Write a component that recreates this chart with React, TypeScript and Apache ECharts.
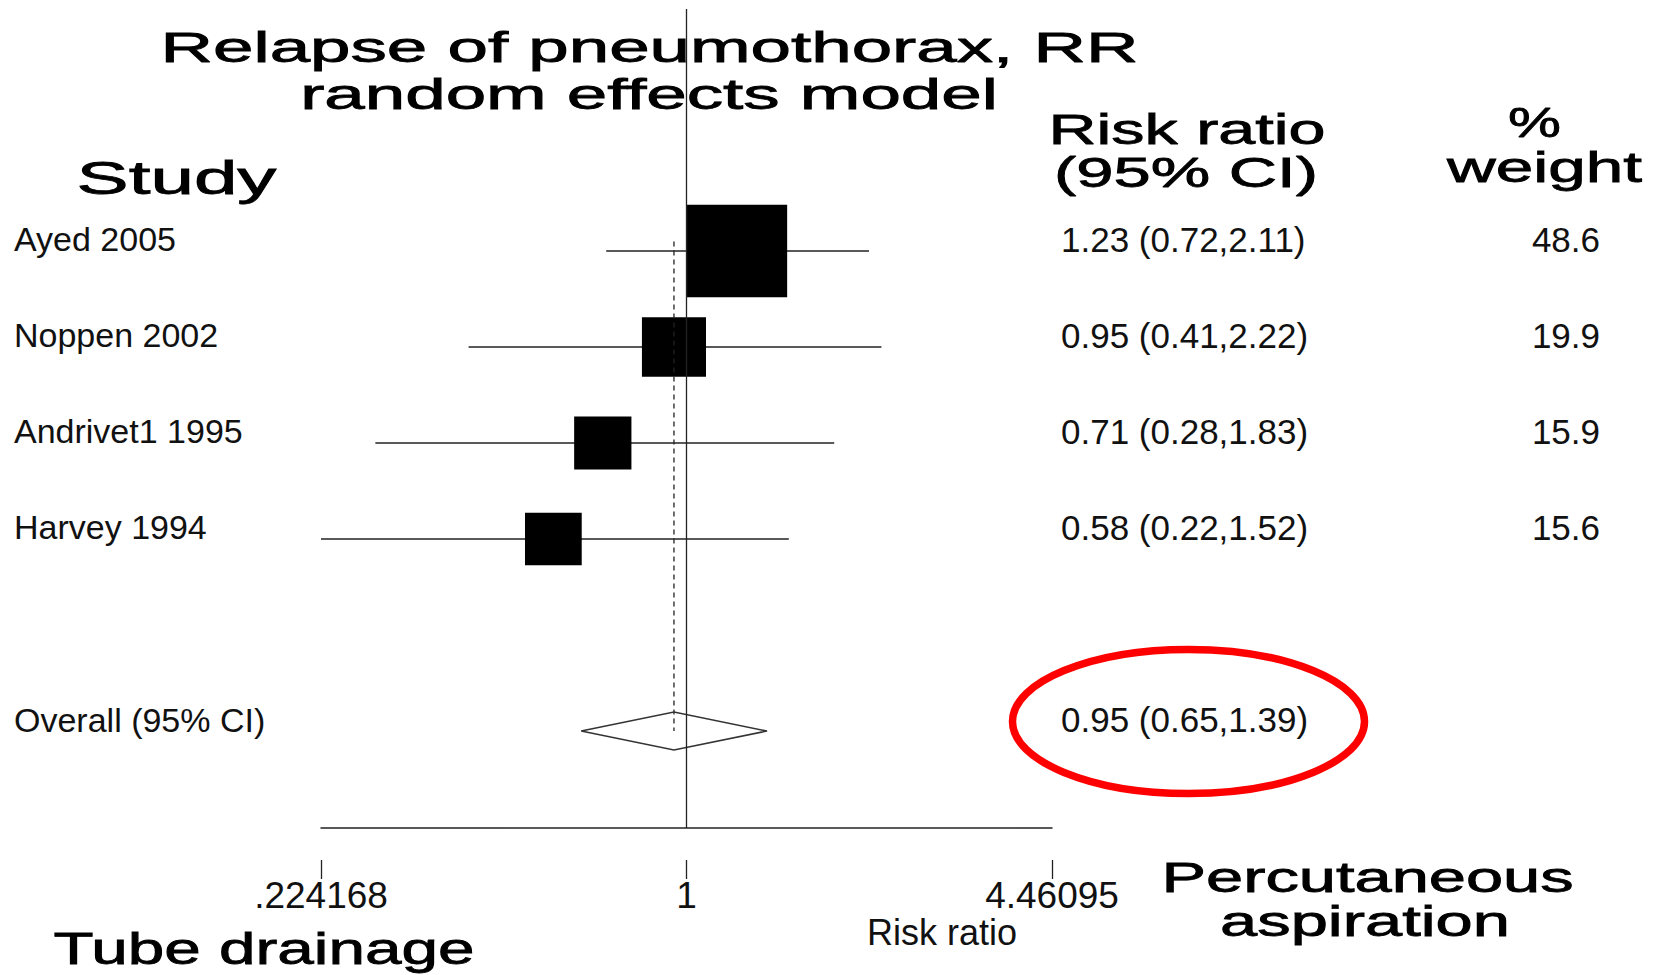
import React, { useEffect, useRef } from 'react';
import * as echarts from 'echarts';

// ---- data ----
const STUDIES = ['Ayed 2005', 'Noppen 2002', 'Andrivet1 1995', 'Harvey 1994'];
const RR = [1.23, 0.95, 0.71, 0.58];
const LOWER = [0.72, 0.41, 0.28, 0.22];
const UPPER = [2.11, 2.22, 1.83, 1.52];
const WEIGHT = [48.6, 19.9, 15.9, 15.6];
const STUDY_ROWS = [0, 1, 2, 3];
const OVERALL_LABEL = 'Overall (95% CI)';
const OVERALL_RR = 0.95;
const OVERALL_LOWER = 0.65;
const OVERALL_UPPER = 1.39;
const OVERALL_ROW = 5;
const X_MIN = 0.224168;
const X_MAX = 4.46095;
const TICK_VALUES = [0.224168, 1, 4.46095];
const TICK_LABELS = ['.224168', '1', '4.46095'];
const AXIS_TITLE = 'Risk ratio';
const TITLE_LINES = ['Relapse of pneumothorax, RR', 'random effects model'];

// ---- layout ----
const FONT = '"Liberation Sans", Arial, Helvetica, sans-serif';
const Y_MIN = -2.5208;
const Y_MAX = 6.0104;
const HEADINGS = [
  { text: TITLE_LINES[0], cx: 649.5, cy: 47, w: 978, size: 43 },
  { text: TITLE_LINES[1], cx: 649, cy: 94.5, w: 698, size: 43 },
  { text: 'Study', cx: 176.5, cy: 178, w: 200, size: 46 },
  { text: 'Risk ratio', cx: 1187, cy: 129, w: 277, size: 43 },
  { text: '(95% CI)', cx: 1186, cy: 172, w: 264, size: 43 },
  { text: '%', cx: 1534.5, cy: 122, w: 53, size: 43 },
  { text: 'weight', cx: 1544.5, cy: 167, w: 195, size: 43 },
  { text: 'Percutaneous', cx: 1367.6, cy: 877, w: 412, size: 43 },
  { text: 'aspiration', cx: 1365, cy: 921, w: 290, size: 43 },
  { text: 'Tube drainage', cx: 264, cy: 949, w: 421, size: 44 },
];

function measure(text: string, size: number, weight: string): number {
  const c = document.createElement('canvas');
  const ctx = c.getContext('2d');
  if (!ctx) return text.length * size * 0.55;
  ctx.font = `${weight} ${size}px "Liberation Sans", Arial, sans-serif`;
  return ctx.measureText(text).width;
}

function fmtTick(v: number): string {
  let best = 0;
  TICK_VALUES.forEach((t, i) => {
    if (Math.abs(Math.log(t) - v) < Math.abs(Math.log(TICK_VALUES[best]) - v)) best = i;
  });
  return TICK_LABELS[best];
}

export default function App() {
  const ref = useRef<HTMLDivElement>(null);
  useEffect(() => {
    document.body.style.margin = '0';
    const chart = echarts.init(ref.current!, null, { renderer: 'svg' });
    const xmin = Math.log(X_MIN);
    const xmax = Math.log(X_MAX);
    const tickVals = TICK_VALUES.map((v) => Math.log(v));

    const studyData = STUDIES.map((_, i) => [
      Math.log(RR[i]), Math.log(LOWER[i]), Math.log(UPPER[i]), STUDY_ROWS[i], WEIGHT[i],
    ]);
    const overallData = [[Math.log(OVERALL_RR), Math.log(OVERALL_LOWER), Math.log(OVERALL_UPPER), OVERALL_ROW]];
    const labelData = STUDIES.map((_, i) => [0, STUDY_ROWS[i], i]).concat([[0, OVERALL_ROW, -1]]);

    const headingWeight = 'normal';
    const graphics: any[] = HEADINGS.map((h) => {
      const mw = measure(h.text, h.size, headingWeight);
      return {
        type: 'text',
        x: h.cx,
        y: h.cy,
        scaleX: h.w / mw,
        style: {
          text: h.text,
          fontSize: h.size,
          fontFamily: FONT,
          fontWeight: headingWeight,
          fill: '#000',
          stroke: '#000',
          lineWidth: 0.8,
          align: 'center',
          verticalAlign: 'middle',
        },
      };
    });
    graphics.push({
      type: 'text',
      x: 942,
      y: 932,
      style: {
        text: AXIS_TITLE,
        fontSize: 36,
        fontFamily: FONT,
        fill: '#111',
        align: 'center',
        verticalAlign: 'middle',
      },
    });
    graphics.push({
      type: 'ellipse',
      shape: { cx: 1188.5, cy: 721.5, rx: 176, ry: 72 },
      style: { fill: 'none', stroke: '#ff0000', lineWidth: 7.5 },
      z: 100,
    });

    const option: any = {
      animation: false,
      backgroundColor: '#ffffff',
      grid: { left: 321, right: 604, top: 9, bottom: 147 },
      xAxis: [
        {
          type: 'value',
          min: xmin,
          max: xmax,
          position: 'bottom',
          axisLine: { show: true, onZero: false, lineStyle: { color: '#222', width: 1.5 } },
          axisTick: { show: false },
          axisLabel: { show: false },
          splitLine: { show: false },
        },
        {
          type: 'value',
          gridIndex: 0,
          min: xmin,
          max: xmax,
          position: 'bottom',
          offset: 32,
          axisLine: { show: false, onZero: false },
          axisTick: { show: true, length: 19, customValues: tickVals, lineStyle: { color: '#222', width: 1.3 } },
          axisLabel: {
            show: true,
            customValues: tickVals,
            margin: 17,
            fontSize: 37,
            fontFamily: FONT,
            color: '#111',
            formatter: fmtTick,
          },
          splitLine: { show: false },
        },
      ],
      yAxis: { type: 'value', inverse: true, min: Y_MIN, max: Y_MAX, show: false },
      graphic: graphics,
      series: [
        {
          type: 'custom',
          name: 'studies',
          xAxisIndex: 0,
          yAxisIndex: 0,
          data: studyData,
          encode: { x: [0, 1, 2], y: 3 },
          renderItem: (params: any, api: any) => {
            const est = api.value(0), lo = api.value(1), hi = api.value(2), row = api.value(3), w = api.value(4);
            const c = api.coord([est, row]);
            const a = api.coord([lo, row]);
            const b = api.coord([hi, row]);
            const cs = params.coordSys;
            const left = Math.max(a[0], cs.x);
            const right = Math.min(b[0], cs.x + cs.width);
            const h = 13.3 * Math.sqrt(w);
            const bw = 1.08 * h;
            return {
              type: 'group',
              children: [
                { type: 'line', shape: { x1: left, y1: c[1], x2: right, y2: c[1] }, style: { stroke: '#222', lineWidth: 1.5 } },
                { type: 'rect', shape: { x: c[0] - bw / 2, y: c[1] - h / 2, width: bw, height: h }, style: { fill: '#000' } },
              ],
            };
          },
          markLine: {
            silent: true,
            symbol: ['none', 'none'],
            label: { show: false },
            lineStyle: { color: '#222', width: 1.3, type: 'solid' },
            data: [{ xAxis: 0 }],
          },
          z: 3,
        },
        {
          type: 'custom',
          name: 'overall',
          xAxisIndex: 0,
          yAxisIndex: 0,
          data: overallData,
          encode: { x: [0, 1, 2], y: 3 },
          renderItem: (params: any, api: any) => {
            const est = api.value(0), lo = api.value(1), hi = api.value(2), row = api.value(3);
            const c = api.coord([est, row]);
            const top = api.coord([est, STUDY_ROWS[0] - 0.1]);
            const a = api.coord([lo, row]);
            const b = api.coord([hi, row]);
            const hh = 19;
            return {
              type: 'group',
              children: [
                { type: 'line', shape: { x1: c[0], y1: top[1], x2: c[0], y2: c[1] }, style: { stroke: '#222', lineWidth: 1.3, lineDash: [5, 4] } },
                {
                  type: 'polygon',
                  shape: { points: [[a[0], c[1]], [c[0], c[1] - hh], [b[0], c[1]], [c[0], c[1] + hh]] },
                  style: { fill: 'none', stroke: '#333', lineWidth: 1.5 },
                },
              ],
            };
          },
          z: 4,
        },
        {
          type: 'custom',
          name: 'labels',
          xAxisIndex: 0,
          yAxisIndex: 0,
          data: labelData,
          encode: { x: 0, y: 1 },
          renderItem: (params: any, api: any) => {
            const row = api.value(1);
            const idx = api.value(2);
            const y = api.coord([0, row])[1] - 11.5;
            let label: string, rr: string, wt: string;
            if (idx < 0) {
              label = OVERALL_LABEL;
              rr = `${OVERALL_RR.toFixed(2)} (${OVERALL_LOWER.toFixed(2)},${OVERALL_UPPER.toFixed(2)})`;
              wt = '';
            } else {
              label = STUDIES[idx];
              rr = `${RR[idx].toFixed(2)} (${LOWER[idx].toFixed(2)},${UPPER[idx].toFixed(2)})`;
              wt = WEIGHT[idx].toFixed(1);
            }
            const base = { fontSize: 34, fontFamily: FONT, fill: '#111', verticalAlign: 'middle' };
            return {
              type: 'group',
              children: [
                { type: 'text', x: 14, y, style: { ...base, text: label, align: 'left' } },
                { type: 'text', x: 1061, y, style: { ...base, text: rr, align: 'left', fontSize: 35 } },
                { type: 'text', x: 1600, y, style: { ...base, text: wt, align: 'right', fontSize: 35 } },
              ],
            };
          },
          z: 5,
        },
      ],
    };
    chart.setOption(option);
    return () => chart.dispose();
  }, []);
  return <div ref={ref} style={{ width: 1656, height: 975 }} />;
}
